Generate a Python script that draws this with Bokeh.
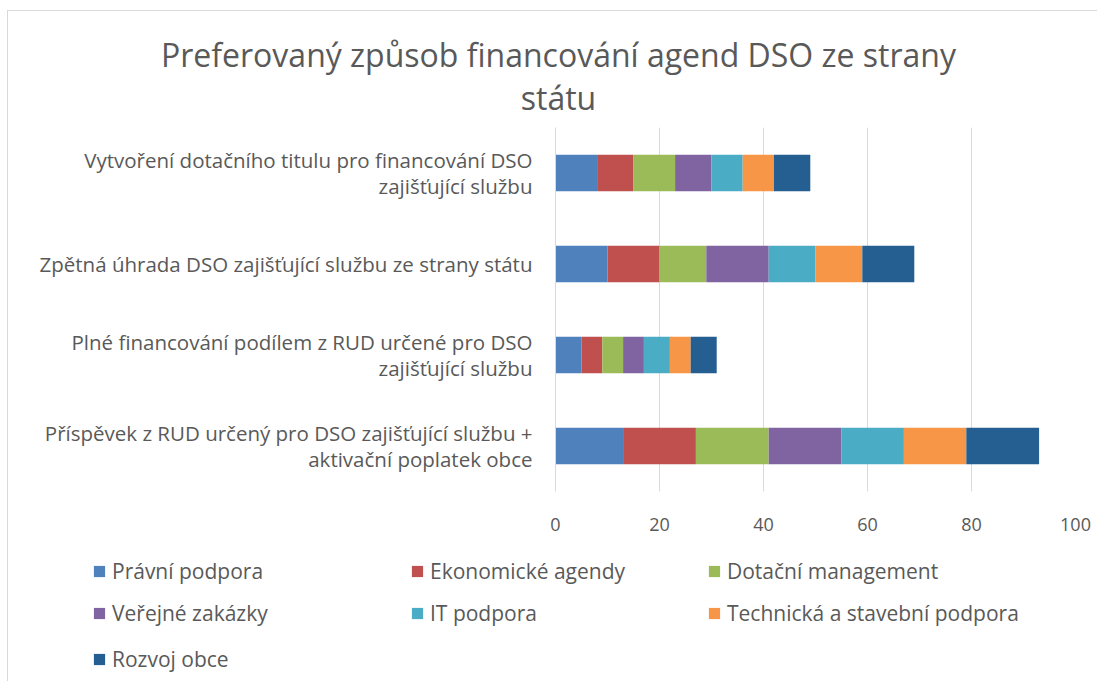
from bokeh.plotting import figure
from bokeh.models import Legend, LegendItem, Label, FactorRange, Range1d, FixedTicker, ColumnDataSource
from bokeh.embed import file_html
from bokeh.resources import INLINE

categories = [
    "Vytvoření dotačního titulu pro financování DSO\nzajišťující službu",
    "Zpětná úhrada DSO zajišťující službu ze strany státu",
    "Plné financování podílem z RUD určené pro DSO\nzajišťující službu",
    "Příspěvek z RUD určený pro DSO zajišťující službu +\naktivační poplatek obce",
]
series = ["Právní podpora", "Ekonomické agendy", "Dotační management",
          "Veřejné zakázky", "IT podpora", "Technická a stavební podpora", "Rozvoj obce"]
pravni_podpora = [8, 10, 5, 13]
ekonomicke_agendy = [7, 10, 4, 14]
dotacni_management = [8, 9, 4, 14]
verejne_zakazky = [7, 12, 4, 14]
it_podpora = [6, 9, 5, 12]
technicka_podpora = [6, 9, 4, 12]
rozvoj_obce = [7, 10, 5, 14]
x_ticks = [0, 20, 40, 60, 80, 100]
title_text = "Preferovaný způsob financování agend DSO ze strany\nstátu"

colors = ["#4F81BD", "#C0504D", "#9BBB59", "#8064A2", "#4BACC6", "#F79646", "#255E91"]
TEXT = "#595959"
BORDER = "#d9d9d9"
FONT = "Open Sans"
W = 1090

values = [pravni_podpora, ekonomicke_agendy, dotacni_management, verejne_zakazky,
          it_podpora, technicka_podpora, rozvoj_obce]
keys = [f"s{i}" for i in range(len(series))]
data = {"cat": categories}
for k, v in zip(keys, values):
    data[k] = v
source = ColumnDataSource(data)

# ---- header (title) ----
head = figure(width=W, height=117, output_backend="svg", toolbar_location=None,
              x_range=Range1d(0, 1), y_range=Range1d(0, 1),
              min_border_left=0, min_border_right=0, min_border_top=0, min_border_bottom=0,
              x_axis_location=None, y_axis_location=None)
head.outline_line_color = None
head.grid.grid_line_color = None
head.styles = {"margin": "10px 0 0 7px", "border-top": f"1px solid {BORDER}",
               "border-left": f"1px solid {BORDER}"}
head.add_layout(Label(x=550, y=96, x_units="screen", y_units="screen", text=title_text,
                      text_align="center", text_baseline="top", text_font=FONT,
                      text_font_size="32px", text_color=TEXT, text_line_height=1.0))

# ---- main chart ----
p = figure(width=W, height=414, output_backend="svg", toolbar_location=None,
           y_range=FactorRange(factors=list(reversed(categories))),
           x_range=Range1d(0, 100),
           min_border_left=547, min_border_right=23, min_border_top=0, min_border_bottom=50)
p.styles = {"margin": "0 0 0 7px", "border-left": f"1px solid {BORDER}"}

renderers = p.hbar_stack(keys, y="cat", height=0.4, color=colors, source=source,
                         line_color=None)

p.outline_line_color = None
p.ygrid.grid_line_color = None
p.xgrid.grid_line_color = BORDER
p.xgrid.grid_line_width = 1
p.xaxis.ticker = FixedTicker(ticks=x_ticks)
p.xaxis.axis_line_color = None
p.xaxis.major_tick_line_color = None
p.xaxis.minor_tick_line_color = None
p.xaxis.major_label_standoff = 20
p.xaxis.major_label_text_font = FONT
p.xaxis.major_label_text_font_size = "18px"
p.xaxis.major_label_text_color = TEXT

p.yaxis.axis_line_color = BORDER
p.yaxis.major_tick_line_color = None
p.yaxis.minor_tick_line_color = None
p.yaxis.major_label_standoff = 17
p.yaxis.major_label_text_font = FONT
p.yaxis.major_label_text_font_size = "20.5px"
p.yaxis.major_label_text_color = TEXT
p.yaxis.major_label_text_line_height = 0.95

# ---- legend: rows of legends (cols 1-2 and col 3 separately) ----
lf = figure(width=W, height=140, output_backend="svg", toolbar_location=None,
            y_range=FactorRange(factors=list(reversed(categories))),
            x_range=Range1d(-1000, -999),
            min_border_left=0, min_border_right=0, min_border_top=0, min_border_bottom=0,
            x_axis_location=None, y_axis_location=None)
lf.outline_line_color = None
lf.grid.grid_line_color = None
lf.styles = {"margin": "0 0 0 7px", "border-left": f"1px solid {BORDER}"}
lrend = lf.hbar_stack(keys, y="cat", height=0.4, color=colors, source=source, line_color=None)


def make_legend(idx, x, y):
    leg = Legend(items=[LegendItem(label=series[i], renderers=[lrend[i]]) for i in idx],
                 location=(x, y), orientation="horizontal")
    leg.label_text_font = FONT
    leg.label_text_font_size = "21px"
    leg.label_text_color = TEXT
    leg.glyph_width = 14
    leg.glyph_height = 14
    leg.label_standoff = 6
    leg.label_height = 26
    leg.label_width = 280
    leg.spacing = 18
    leg.padding = 0
    leg.margin = 0
    leg.border_line_color = None
    leg.background_fill_alpha = 0
    lf.add_layout(leg, "center")


row_bottoms = [96, 54, 8]
for r, yb in enumerate(row_bottoms):
    idx = list(range(3 * r, min(3 * r + 3, len(series))))
    make_legend(idx[:2], 84, yb)
    if len(idx) > 2:
        make_legend(idx[2:], 699, yb)

open("out.html", "w").write(file_html([head, p, lf], INLINE))
